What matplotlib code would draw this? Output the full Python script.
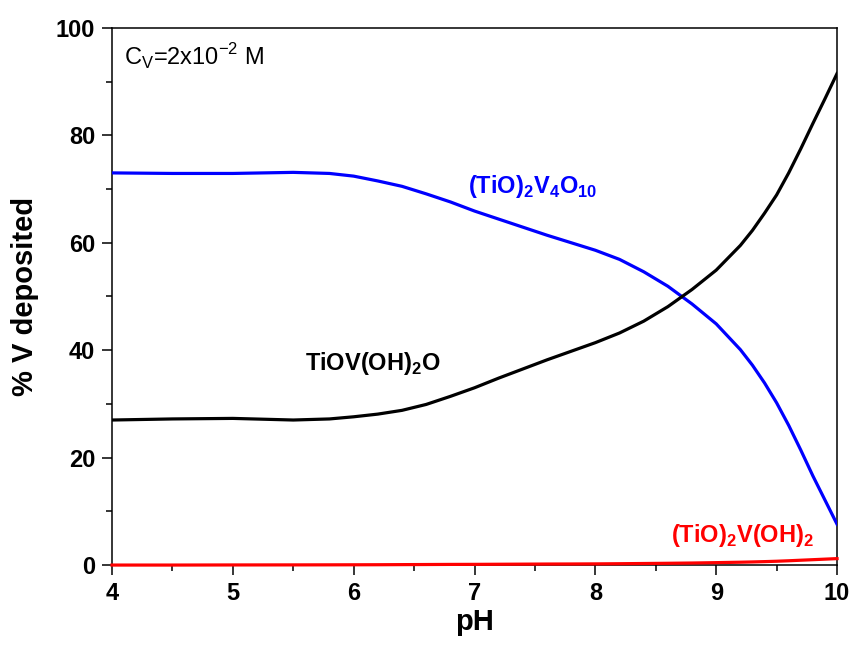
import matplotlib
matplotlib.use("Agg")
import matplotlib.pyplot as plt
from matplotlib.ticker import MultipleLocator

plt.rcParams["font.family"] = ["Liberation Sans", "DejaVu Sans"]
plt.rcParams["mathtext.fontset"] = "custom"
plt.rcParams["mathtext.rm"] = "Liberation Sans"
plt.rcParams["mathtext.bf"] = "Liberation Sans:bold"

ph = [4.0, 4.5, 5.0, 5.5, 5.8, 6.0, 6.2, 6.4, 6.6, 6.8, 7.0, 7.2, 7.4, 7.6, 7.8,
      8.0, 8.2, 8.4, 8.6, 8.8, 9.0, 9.2, 9.3, 9.4, 9.5, 9.6, 9.7, 9.8, 9.9, 10.0]
tio2v4o10 = [73.0, 72.9, 72.9, 73.1, 72.9, 72.4, 71.5, 70.5, 69.1, 67.6, 65.9, 64.4,
             62.9, 61.4, 60.0, 58.6, 56.9, 54.6, 51.9, 48.6, 44.9, 40.1, 37.2, 33.9,
             30.2, 26.0, 21.4, 16.6, 12.1, 7.6]
tiovoh2o = [27.0, 27.2, 27.3, 27.0, 27.2, 27.6, 28.1, 28.8, 29.9, 31.4, 33.0, 34.8,
            36.5, 38.2, 39.8, 41.4, 43.2, 45.4, 48.1, 51.3, 54.9, 59.5, 62.3, 65.5,
            68.9, 73.0, 77.5, 82.2, 86.8, 91.5]
tio2voh2 = [0.0, 0.0, 0.02, 0.03, 0.04, 0.05, 0.06, 0.08, 0.1, 0.12, 0.13, 0.15,
            0.17, 0.19, 0.2, 0.22, 0.25, 0.29, 0.33, 0.38, 0.45, 0.53, 0.58, 0.64,
            0.71, 0.8, 0.9, 1.0, 1.1, 1.2]

fig = plt.figure(figsize=(8.51, 6.48), dpi=100)
ax = fig.add_axes([0.1316, 0.128, 0.852, 0.829])

ax.plot(ph, tio2v4o10, color="#0000ff", linewidth=2.3, zorder=3)
ax.plot(ph, tiovoh2o, color="black", linewidth=2.3, zorder=3)
ax.plot(ph, tio2voh2, color="#ff0000", linewidth=2.3, zorder=4, clip_on=False)

ax.set_xlim(4, 10)
ax.set_ylim(0, 100)
ax.xaxis.set_major_locator(MultipleLocator(1))
ax.xaxis.set_minor_locator(MultipleLocator(0.5))
ax.yaxis.set_major_locator(MultipleLocator(20))
ax.yaxis.set_minor_locator(MultipleLocator(10))
ax.tick_params(which="major", direction="out", length=7, width=1.1, labelsize=17, pad=5)
ax.tick_params(which="minor", direction="out", length=4, width=1.1)
for lab in ax.get_xticklabels() + ax.get_yticklabels():
    lab.set_fontweight("bold")
for sp in ax.spines.values():
    sp.set_linewidth(1.1)

ax.set_xlabel("pH", fontsize=21, fontweight="bold", labelpad=2)
ax.set_ylabel("% V deposited", fontsize=21, fontweight="bold", labelpad=12)

ax.text(4.1, 94.5, r"C$_\mathrm{V}$=2x10$^\mathrm{-2}$ M", fontsize=17,
        va="center", ha="left")
ax.text(6.95, 70.5, r"(TiO)$_\mathbf{2}$V$_\mathbf{4}$O$_\mathbf{10}$", fontsize=17,
        fontweight="bold", color="#0000ff", va="center", ha="left")
ax.text(5.6, 37.5, r"TiOV(OH)$_\mathbf{2}$O", fontsize=17,
        fontweight="bold", color="black", va="center", ha="left")
ax.text(8.63, 5.5, r"(TiO)$_\mathbf{2}$V(OH)$_\mathbf{2}$", fontsize=17,
        fontweight="bold", color="#ff0000", va="center", ha="left")

fig.savefig("out.png", dpi=100)
